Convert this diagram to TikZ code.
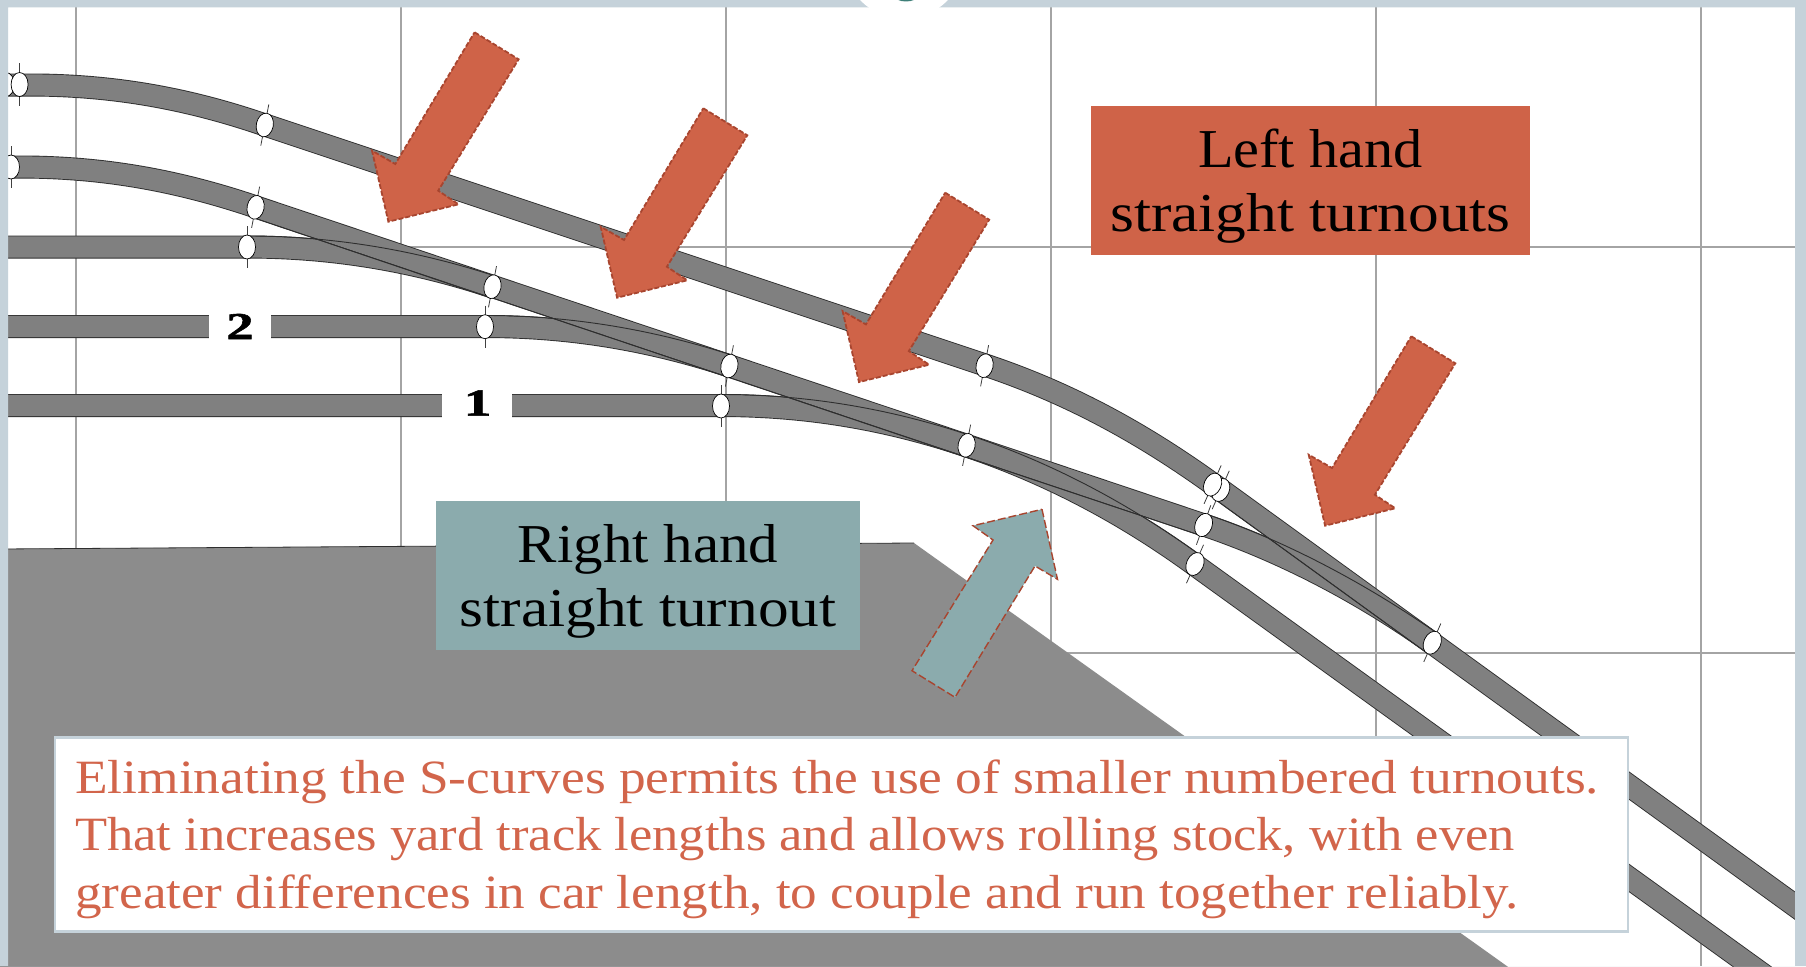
\documentclass[tikz,border=0pt]{standalone}
\usepackage{fontspec}
\usepackage{graphicx}
\usetikzlibrary{shapes.geometric}
\newfontfamily\geo[FakeStretch=1.12]{Liberation Serif}
\newfontfamily\numf[FakeStretch=1.45,BoldFeatures={FakeBold=1.5}]{Liberation Serif}
\definecolor{framec}{HTML}{C5D2DA}
\definecolor{gridc}{HTML}{A4A4A4}
\definecolor{landc}{HTML}{8C8C8C}
\definecolor{trackc}{HTML}{808080}
\definecolor{edgec}{HTML}{2E2E2E}
\definecolor{rust}{HTML}{CF6348}
\definecolor{rustline}{HTML}{A8452F}
\definecolor{tealc}{HTML}{8BABAD}
\definecolor{noteink}{HTML}{D2654B}
\definecolor{tealdot}{HTML}{3E7F78}
\tikzset{
  gridline/.style={draw=gridc,line width=2pt},
  edgepass/.style={draw=edgec,line width=23pt,line cap=butt,line join=round},
  fillpass/.style={draw=trackc,line width=21.2pt,line cap=butt,line join=round},
  frogline/.style={draw=edgec,line width=0.9pt},
  sleeper/.style={draw=black!75,line width=0.8pt},
  jointoval/.style={ellipse,draw=black,line width=0.7pt,fill=white,minimum width=17pt,minimum height=24pt,inner sep=0pt},
  pointer/.style={fill=rust,draw=rustline,line width=1.8pt,dash pattern=on 5pt off 2pt},
  tealpointer/.style={fill=tealc,draw=rustline,line width=1.4pt,dash pattern=on 8pt off 3pt},
  gaplabel/.style={inner sep=0pt,font=\numf\bfseries\fontsize{38}{38}\selectfont},
  caption/.style={align=center,inner sep=0pt,text=black,font=\geo\fontsize{54.8}{64}\selectfont},
}
% a track: black pass and grey pass of the same path
\newcommand{\track}[1]{\draw[edgepass] #1; \draw[fillpass] #1;}
\newcommand{\jointat}[4]{%
  \coordinate (#1) at (#2,#3);
  \draw[sleeper] (#1) ++ (90-#4:21pt) -- ++(270-#4:42pt);
  \node[jointoval,rotate=-#4] (#1o) at (#1) {};}
\newcommand{\leftarrowat}[3]{%
  \begin{scope}[shift={(#2,#3)}]
  \path[pointer] (474.6,32.3) -- (518.6,59.3) -- (438.2,190.7) -- (458.5,204.3)
     -- (388.4,221.7) -- (372,150.7) -- (395.3,164) -- cycle;
  \end{scope}}
\begin{document}
\begin{tikzpicture}[x=1pt,y=-1pt]
\useasboundingbox (0,0) rectangle (1806,966);
\fill[white] (0,0) rectangle (1806,966);
% grid
\foreach \gx in {75.8,401,726,1051,1376,1701}
  \draw[gridline] (\gx,0) -- (\gx,966);
\draw[gridline] (0,246.5) -- (1806,246.5);
\draw[gridline] (0,653) -- (1806,653);
% land
\fill[landc] (0,549) -- (914,543) -- (1525,979) -- (0,979) -- cycle;
\draw[edgec,line width=0.8pt] (0,549) -- (914,543);
% tracks: the curved turnout legs first
\track{(0,247) -- (247,247) .. controls (340,247) and (420,263) .. (493,287)}
\track{(0,326.5) -- (485,326.5) .. controls (578,326.5) and (658,342.5) .. (731,366.5)}
\track{(0,405.5) -- (721,405.5) .. controls (814,405.5) and (894,421.5) .. (967,446)}
\track{(967,446) .. controls (1050,474) and (1125,514) .. (1195,565) -- (1790,994)}
\track{(1204,525) .. controls (1284,552) and (1362,593) .. (1432,643)}
\track{(0,167) -- (20,167) .. controls (110,167) and (185,183) .. (256,207) -- (1204,525)}
\track{(0,85) -- (30,85) .. controls (120,85) and (195,101) .. (265,125) -- (985,365)
   .. controls (1075,395) and (1150,438) .. (1221,490) -- (1432,643) -- (1830,931)}
% rails that stay visible inside the turnouts
\draw[frogline] (247,236) .. controls (340,236) and (423.5,252.5) .. (496.5,276.5);
\draw[frogline] (485,315.5) .. controls (578,315.5) and (661.5,332) .. (734.5,356);
\draw[frogline] (721,394.5) .. controls (814,394.5) and (897.5,411) .. (970.5,435.6);
\draw[frogline] (252.5,217.4) -- (489,297.4);
\draw[frogline] (490.5,297.4) -- (963.5,456.4);
\draw[frogline] (970.5,435.6) .. controls (1053.8,463.4) and (1131,505) .. (1201.4,556.1);
\draw[frogline] (963.5,456.4) -- (1200.5,535.4);
\draw[frogline] (1207.5,514.6) .. controls (1287.5,541.6) and (1368,585) .. (1438.4,634.1);
\draw[frogline] (1214.6,498.9) -- (1425.6,651.9);
% track number gaps
\fill[white] (208.6,313) rectangle (270.6,340);
\fill[white] (442,392) rectangle (512,419);
\node[gaplabel] (num2) at (240,326.5) {2};
\node[gaplabel] (num1) at (477.6,403) {1};
% rail joints
\jointat{ja}{6}{84.5}{0}
\jointat{jb}{19.6}{84.5}{0}
\jointat{jc}{264.8}{125}{11}
\jointat{jd}{11}{167}{0}
\jointat{je}{255.6}{207.3}{11}
\jointat{jf}{247}{247}{0}
\jointat{jg}{492.5}{286.7}{11}
\jointat{jh}{485}{326.7}{0}
\jointat{ji}{729.4}{366}{11}
\jointat{jj}{984.6}{365.7}{11}
\jointat{jk}{721}{406}{0}
\jointat{jl}{966.6}{445.3}{11}
\jointat{jm}{1220.7}{490}{24}
\jointat{jn}{1212.6}{484.6}{24}
\jointat{jo}{1203.6}{525}{20}
\jointat{jp}{1195}{564}{24}
\jointat{jq}{1432.3}{642.7}{24}
% pointers
\leftarrowat{pa}{0}{0}
\leftarrowat{pb}{228.7}{76}
\leftarrowat{pc}{470.6}{160.4}
\leftarrowat{pd}{936.7}{304}
\path[tealpointer] (1042,509.3) -- (1057.5,579.3) -- (1035,566) -- (955,697.3)
   -- (912,670.7) -- (993,540) -- (973,525.7) -- cycle;
% captions
\node[fill=rust,minimum width=439pt,minimum height=149pt,inner sep=0pt] (leftcap) at (1310.5,180.5) {};
\node[caption,anchor=center] (lefttext) at (1310.5,186.5) {\scalebox{0.95}[1]{Left hand}\\straight turnouts};
\node[fill=tealc,minimum width=424.6pt,minimum height=149pt,inner sep=0pt] (rightcap) at (648.1,575.5) {};
\node[caption,anchor=center] (righttext) at (648.1,581.5) {\scalebox{0.96}[1]{Right hand}\\straight turnout};
% note
\node[draw=framec,fill=white,line width=2.4pt,minimum width=1573pt,minimum height=194pt,inner sep=0pt] (notebox) at (841.3,834.6) {};
\node[anchor=west,align=left,inner sep=0pt,text=noteink,font=\geo\fontsize{47.8}{57.6}\selectfont] (note) at (75,839)
  {\scalebox{0.997}[1]{Eliminating the S-curves permits the use of smaller numbered turnouts.}\\
   \scalebox{0.981}[1]{That increases yard track lengths and allows rolling stock, with even}\\
   \scalebox{0.992}[1]{greater differences in car length, to couple and run together reliably.}};
% slide frame
\fill[framec,even odd rule] (0,0) rectangle (1806,966) (8,7.5) rectangle (1795,966);
\begin{scope}
  \clip (0,0) rectangle (1806,12);
  \fill[white] (904,-42) circle (60.8pt);
  \fill[tealdot] (906,-20) circle (21.5pt);
\end{scope}
\end{tikzpicture}
\end{document}
